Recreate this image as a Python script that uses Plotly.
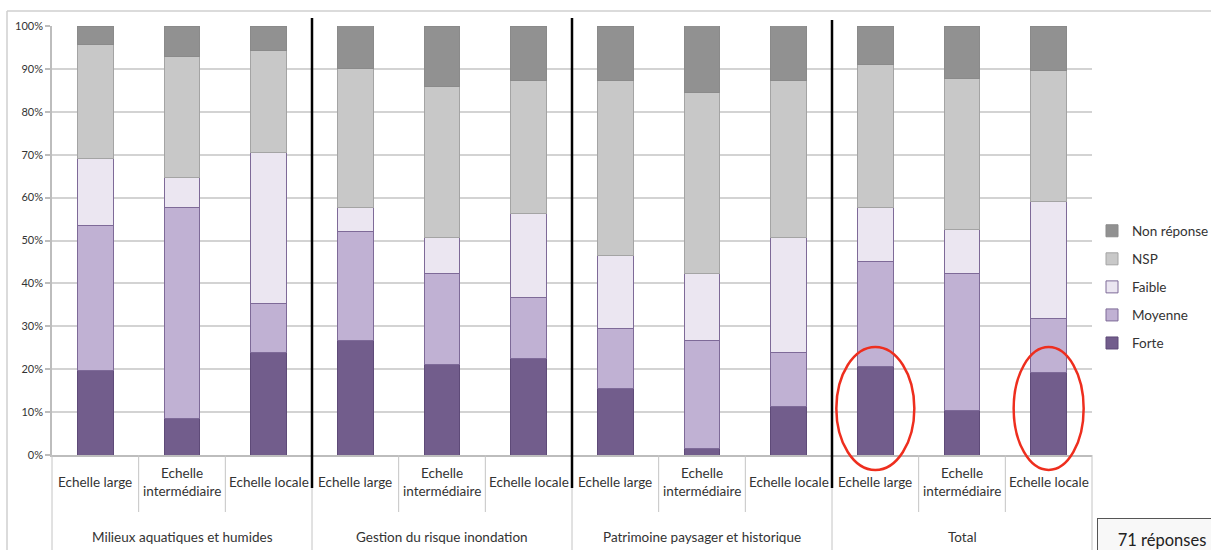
import plotly.graph_objects as go

# ---------------- data ----------------
groups = ["Milieux aquatiques et humides", "Gestion du risque inondation",
          "Patrimoine paysager et historique", "Total"]
scales = ["Echelle large", "Echelle intermédiaire", "Echelle locale"]
scale_labels = ["Echelle large", "Echelle<br>intermédiaire", "Echelle locale"]

# percentages per bar (12 bars: 4 groups x 3 scales)
forte = [19.7, 8.5, 23.9, 26.8, 21.1, 22.5, 15.5, 1.4, 11.3, 20.7, 10.3, 19.2]
moyenne = [33.8, 49.3, 11.3, 25.4, 21.1, 14.1, 14.1, 25.4, 12.7, 24.4, 31.9, 12.7]
faible = [15.5, 7.0, 35.2, 5.6, 8.5, 19.7, 16.9, 15.5, 26.8, 12.7, 10.3, 27.2]
nsp = [26.8, 28.2, 23.9, 32.4, 35.2, 31.0, 40.8, 42.3, 36.6, 33.3, 35.2, 30.5]
non_reponse = [4.2, 7.0, 5.6, 9.9, 14.1, 12.7, 12.7, 15.5, 12.7, 8.9, 12.2, 10.3]
note_text = "71 réponses"

series = [
    ("Forte", forte, "#725D8C", "#5E4A78"),
    ("Moyenne", moyenne, "#C0B1D3", "#7E6A98"),
    ("Faible", faible, "#EBE6F1", "#7E6A98"),
    ("NSP", nsp, "#C8C8C8", "#A4A4A4"),
    ("Non réponse", non_reponse, "#919191", "#8A8A8A"),
]

FONT = "Lato, 'Open Sans', sans-serif"
TXT = "#333333"

# category keys (unique)
keys = [f"{g} | {s}" for g in groups for s in scales]
N = len(keys)

fig = go.Figure()
for i, (name, vals, col, lcol) in enumerate(series):
    fig.add_trace(go.Bar(
        x=keys, y=vals, name=name,
        marker=dict(color=col, line=dict(color=lcol, width=1)),
        legendgroup=name,
        legendrank=len(series) - i,
    ))

# geometry helpers (figure px -> paper)
W, H = 1211, 550
ML, MR, MT, MB = 52, 119, 26, 95
PW, PH = W - ML - MR, H - MT - MB


def px_x(px):
    return (px - ML) / PW


def px_y(py):
    return (H - MB - py) / PH


shapes = []
annotations = []

# chart frame (top and left)
shapes.append(dict(type="line", xref="paper", yref="paper", x0=px_x(7), x1=px_x(1215),
                   y0=px_y(11), y1=px_y(11), line=dict(color="#CFCFCF", width=1.5)))
shapes.append(dict(type="line", xref="paper", yref="paper", x0=px_x(7), x1=px_x(7),
                   y0=px_y(11), y1=px_y(552), line=dict(color="#CFCFCF", width=1.5)))

# separators below axis
for b in range(N + 1):
    xb = b / N
    if b % 3 == 0:
        y1 = px_y(552)
    else:
        y1 = px_y(512)
    shapes.append(dict(type="line", xref="paper", yref="paper", x0=xb, x1=xb,
                       y0=0, y1=y1, line=dict(color="#C4C4C4", width=1)))

# thick black group separators
for b in (3, 6, 9):
    xb = b / N
    shapes.append(dict(type="line", xref="paper", yref="paper", x0=xb, x1=xb,
                       y0=px_y(18 if b < 9 else 20), y1=px_y(488),
                       line=dict(color="#000000", width=2.5)))

# red ellipses around bars "Total / Echelle large" and "Total / Echelle locale"
for idx, half_w in ((9, 39 / PW), (11, 35 / PW)):
    cx = (idx + 0.5) / N
    shapes.append(dict(type="circle", xref="paper", yref="paper",
                       x0=cx - half_w, x1=cx + half_w, y0=px_y(470), y1=px_y(347),
                       line=dict(color="#EE2E1E", width=2.5), layer="above"))

# sub-category labels
for k, key in enumerate(keys):
    annotations.append(dict(x=(k + 0.5) / N, y=px_y(482), xref="paper", yref="paper",
                            text=scale_labels[k % 3], showarrow=False,
                            xanchor="center", yanchor="middle",
                            font=dict(family=FONT, size=13.5, color=TXT)))
# group labels
for g, gname in enumerate(groups):
    annotations.append(dict(x=(3 * g + 1.5) / N, y=px_y(537), xref="paper", yref="paper",
                            text=gname, showarrow=False, xanchor="center", yanchor="middle",
                            font=dict(family=FONT, size=13.5, color=TXT)))

# note box
annotations.append(dict(x=px_x(1097), y=px_y(518), xref="paper", yref="paper",
                        text=note_text, showarrow=False, xanchor="left", yanchor="top",
                        width=122, height=35, borderpad=3, align="center", valign="middle",
                        bordercolor="#555555", borderwidth=1, bgcolor="#F8F8F8",
                        font=dict(family=FONT, size=16.5, color="#222222")))

fig.update_layout(
    width=W, height=H,
    margin=dict(l=ML, r=MR, t=MT, b=MB, pad=0, autoexpand=False),
    barmode="stack",
    bargap=0.585,
    paper_bgcolor="white",
    plot_bgcolor="white",
    font=dict(family=FONT, color=TXT),
    shapes=shapes,
    annotations=annotations,
    legend=dict(
        x=px_x(1092), xanchor="left", y=px_y(287), yanchor="middle",
        traceorder="grouped", tracegroupgap=7.5,
        font=dict(family=FONT, size=13.5, color=TXT),
        bgcolor="rgba(0,0,0,0)",
    ),
    xaxis=dict(
        type="category", categoryorder="array", categoryarray=keys,
        range=[-0.5, N - 0.5], showticklabels=False, showgrid=False,
        showline=True, linecolor="#BDBDBD", linewidth=1.5, ticks="",
        zeroline=False, fixedrange=True,
    ),
    yaxis=dict(
        range=[0, 100], tick0=0, dtick=10, ticksuffix="%",
        showgrid=True, gridcolor="#D3D3D3", gridwidth=1.5,
        showline=True, linecolor="#BDBDBD", linewidth=1.5,
        ticks="outside", ticklen=5, tickcolor="#BDBDBD", tickwidth=1.5,
        tickfont=dict(family=FONT, size=11, color=TXT),
        zeroline=False,
    ),
)

fig.write_html(
    "out.html",
    config={"displayModeBar": False},
    post_script="document.body.style.margin='0';document.body.style.overflow='hidden';",
)
